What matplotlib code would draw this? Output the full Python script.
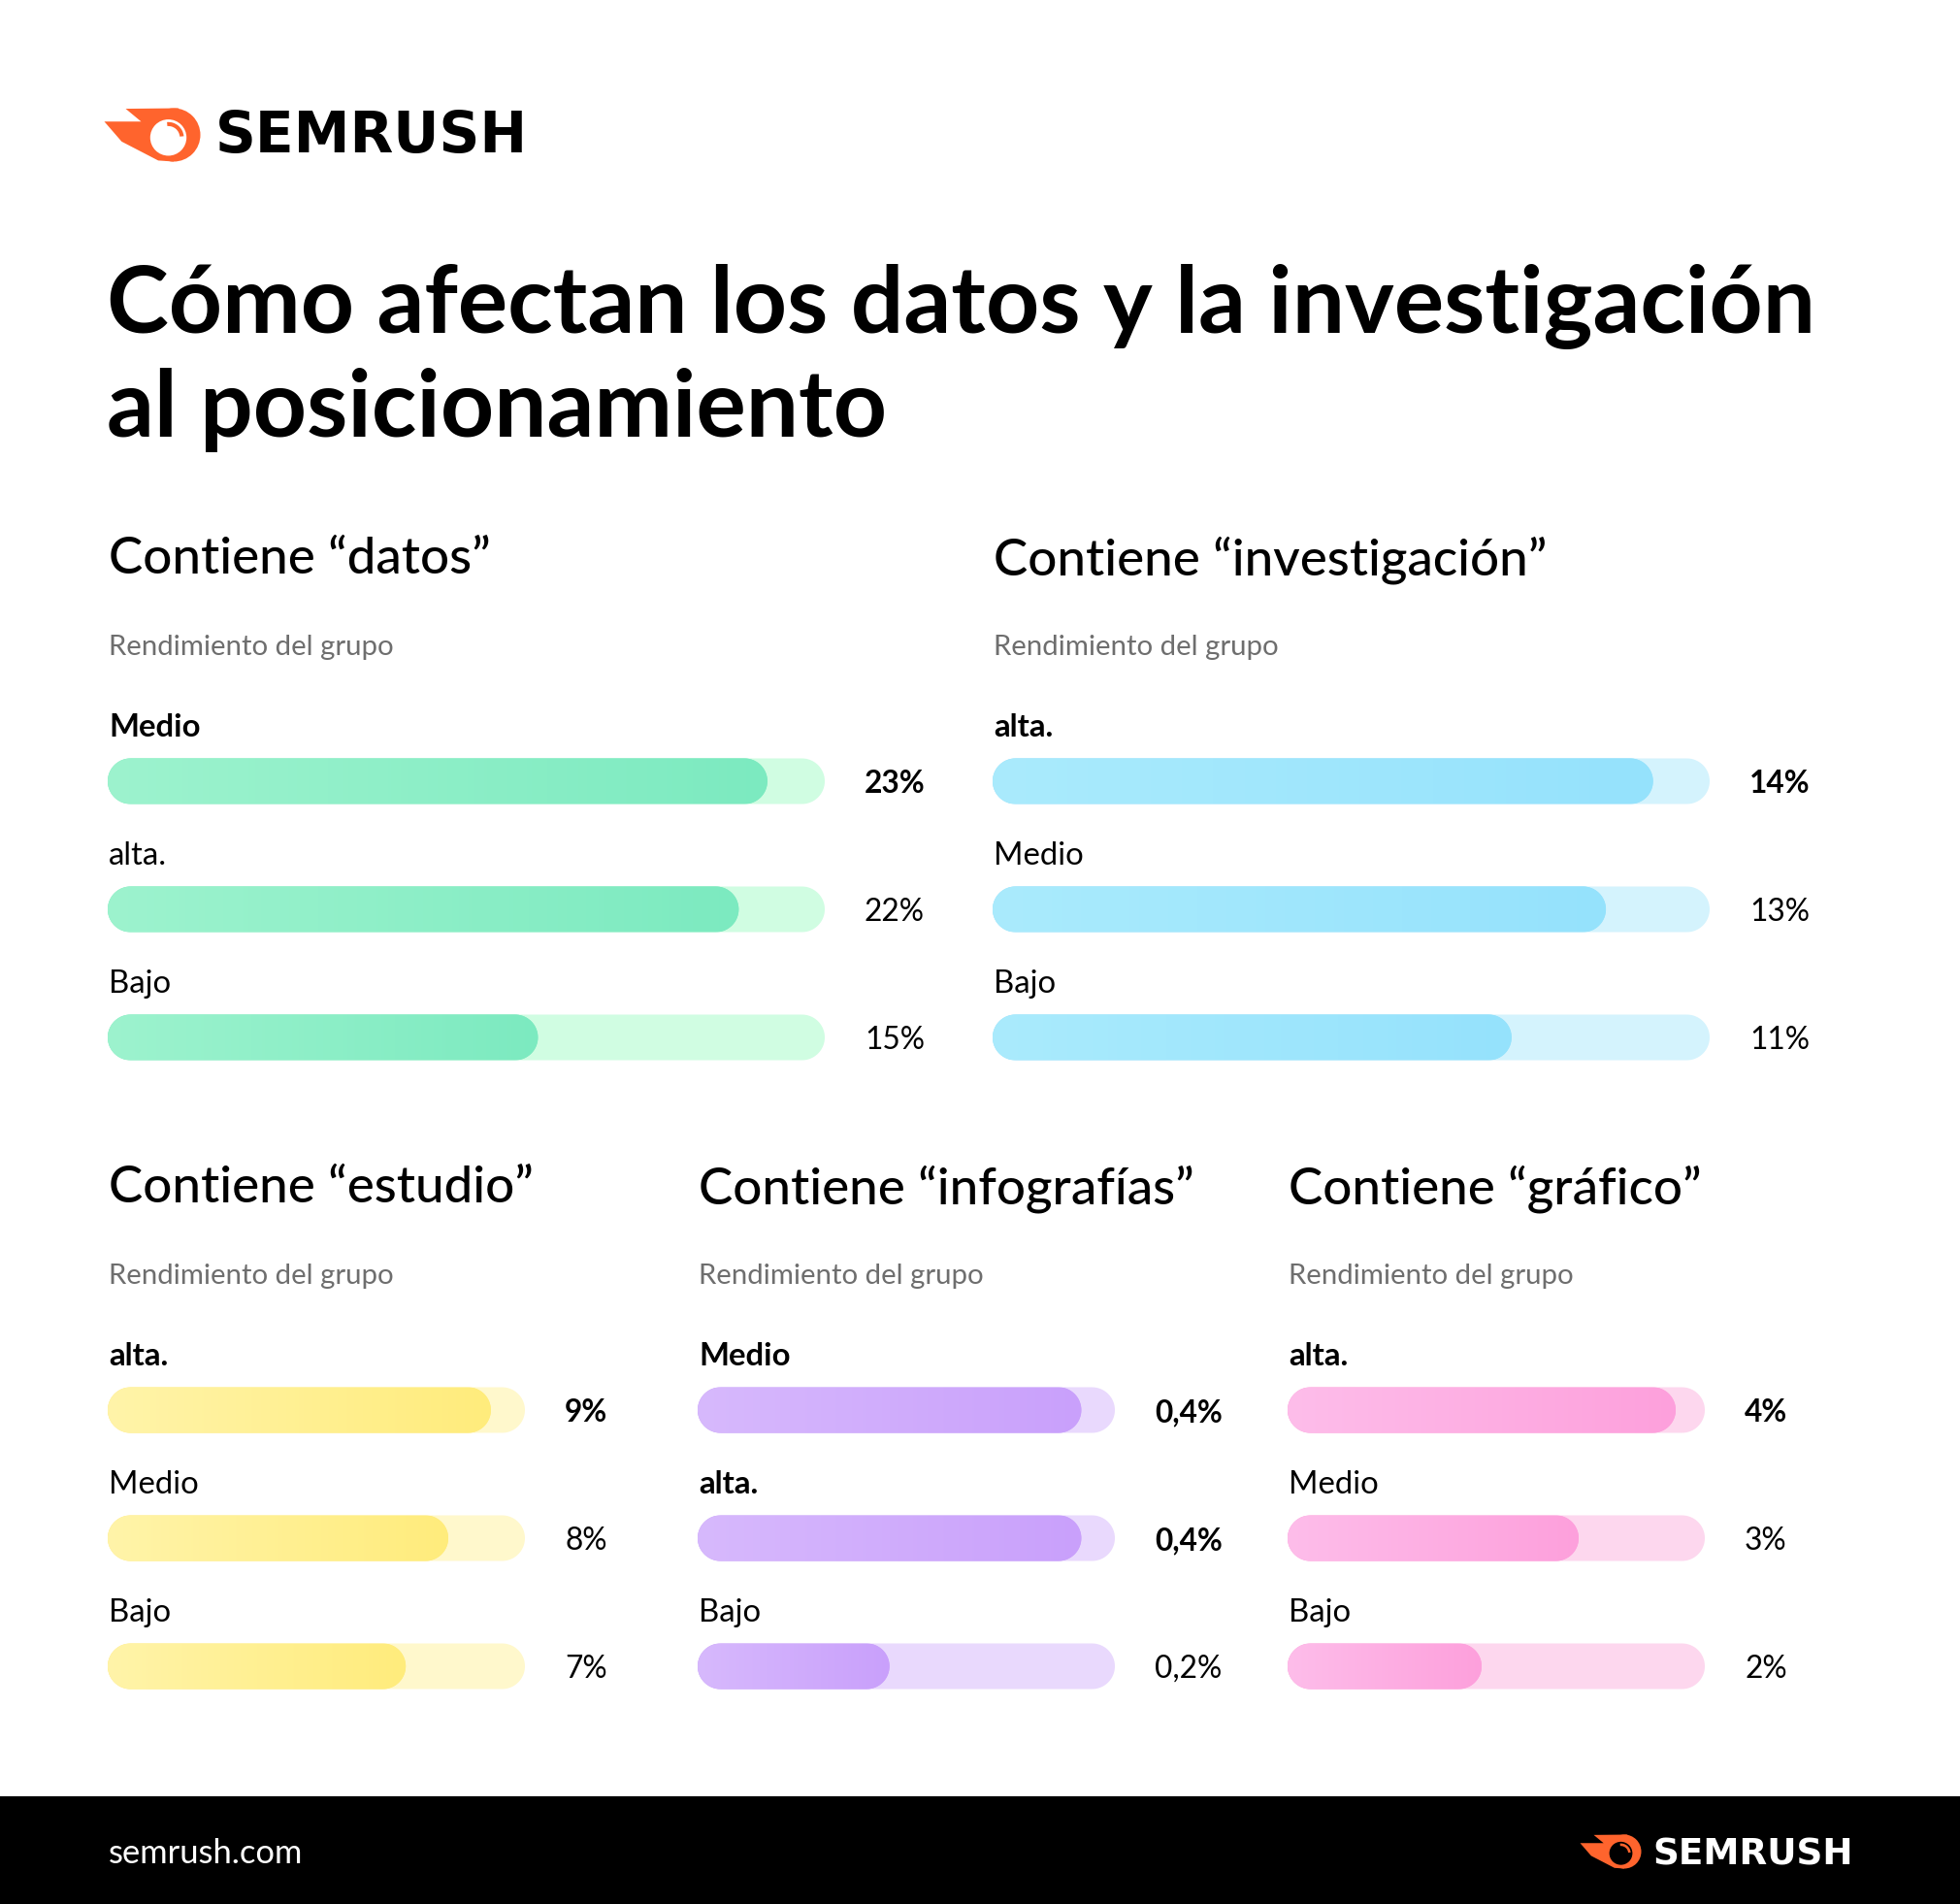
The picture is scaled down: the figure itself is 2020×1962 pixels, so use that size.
import numpy as np
import matplotlib
matplotlib.use("Agg")
import matplotlib.pyplot as plt
from matplotlib.path import Path
from matplotlib.patches import PathPatch, Circle, Wedge, Polygon, Rectangle
from matplotlib.colors import to_rgb

# ---------------- data ----------------
main_title = ["Cómo afectan los datos y la investigación", "al posicionamiento"]
subtitle = "Rendimiento del grupo"
footer_url = "semrush.com"
brand = "SEMRUSH"

panel_titles = ["Contiene “datos”", "Contiene “investigación”", "Contiene “estudio”",
                "Contiene “infografías”", "Contiene “gráfico”"]

datos_labels = ["Medio", "alta.", "Bajo"]
datos_values = [23, 22, 15]
datos_text = ["23%", "22%", "15%"]

invest_labels = ["alta.", "Medio", "Bajo"]
invest_values = [14, 13, 11]
invest_text = ["14%", "13%", "11%"]

estudio_labels = ["alta.", "Medio", "Bajo"]
estudio_values = [9, 8, 7]
estudio_text = ["9%", "8%", "7%"]

info_labels = ["Medio", "alta.", "Bajo"]
info_values = [0.4, 0.4, 0.2]
info_text = ["0,4%", "0,4%", "0,2%"]

graf_labels = ["alta.", "Medio", "Bajo"]
graf_values = [4, 3, 2]
graf_text = ["4%", "3%", "2%"]

# full-scale of each bar track (value at which the bar would be full)
scale_max = [25, 15.2, 9.8, 0.435, 4.3]

# ---------------- style ----------------
W, H, DPI = 2020, 1962, 100
FONT = ["Lato", "DejaVu Sans"]
plt.rcParams["font.family"] = FONT

# colours: (track, fill-left, fill-right)
palettes = [
    ("#D0FDE2", "#9DF3CE", "#7CEAC0"),
    ("#D4F3FD", "#AAEBFD", "#95E2FC"),
    ("#FFF8CC", "#FFF4A9", "#FFEC7C"),
    ("#E9D9FD", "#D7B9FD", "#C9A0FB"),
    ("#FDD7EE", "#FEBDEA", "#FDA0DC"),
]

# panel geometry in pixels: (left, track width, first bar centre y)
geoms = [(111, 739, 805), (1023, 739, 805), (111, 430, 1453), (719, 430, 1453), (1327, 430, 1453)]
ROW = 132
BAR_H = 47

fig = plt.figure(figsize=(W / DPI, H / DPI), dpi=DPI, facecolor="white")
canvas = fig.add_axes([0, 0, 1, 1])
canvas.set_xlim(0, W)
canvas.set_ylim(H, 0)
canvas.axis("off")
renderer = fig.canvas.get_renderer()


def size_for(s, target, weight="normal", family=None):
    fam = family if family is not None else FONT
    t = canvas.text(0, 0, s, fontsize=100, fontweight=weight, family=fam)
    w = t.get_window_extent(renderer=renderer).width
    t.remove()
    return 100 * target / w


fs_title = size_for(main_title[0], 1760, "bold")
fs_head = size_for(panel_titles[0], 394, "medium")
fs_sub = size_for(subtitle, 293)
fs_lab = size_for("Medio", 93)
fs_pct = size_for("13%", 62)
fs_url = size_for(footer_url, 200)

# ---------------- logo ----------------
ORANGE = "#FF642D"
LOGO_FONT = ["DejaVu Sans"]
tail_unit = [(0.19, -1.0), (-1.8, -0.98), (-1.22, -0.5), (-2.6, -0.5),
             (-1.95, 0.25), (-0.58, 0.96), (0.0, 1.0)]


def draw_logo(cx, cy, R, inner, tcolor, tx, tbase, twidth):
    canvas.add_patch(Polygon([(cx + x * R, cy + y * R) for x, y in tail_unit],
                             closed=True, color=ORANGE, lw=0))
    canvas.add_patch(Circle((cx, cy), R, color=ORANGE, lw=0))
    icx, icy = cx - 0.2 * R, cy + 0.1 * R
    canvas.add_patch(Circle((icx, icy), 0.68 * R, color=inner, lw=0))
    canvas.add_patch(Wedge((icx, icy), 0.58 * R, -95, -5, width=0.15 * R, color=ORANGE, lw=0))
    fs = size_for(brand, twidth, "bold", LOGO_FONT)
    canvas.text(tx, tbase, brand, fontsize=fs, fontweight="bold", color=tcolor,
                family=LOGO_FONT, va="baseline", ha="left")


draw_logo(179, 139, 27.5, "white", "black", 222, 157, 322)

# ---------------- title ----------------
canvas.text(110, 307, main_title[0], fontsize=fs_title, fontweight="bold",
            va="center_baseline", ha="left", color="black")
canvas.text(110, 415, main_title[1], fontsize=fs_title, fontweight="bold",
            va="center_baseline", ha="left", color="black")

# ---------------- panels ----------------
panels = [
    (datos_labels, datos_values, datos_text),
    (invest_labels, invest_values, invest_text),
    (estudio_labels, estudio_values, estudio_text),
    (info_labels, info_values, info_text),
    (graf_labels, graf_values, graf_text),
]


def pill(x0, x1, yc, rx, ry, n=40):
    t1 = np.linspace(-np.pi / 2, np.pi / 2, n)
    right = np.column_stack([x1 - rx + rx * np.cos(t1), yc + ry * np.sin(t1)])
    t2 = np.linspace(np.pi / 2, 3 * np.pi / 2, n)
    left = np.column_stack([x0 + rx + rx * np.cos(t2), yc + ry * np.sin(t2)])
    pts = np.vstack([right, left, right[:1]])
    codes = [Path.MOVETO] + [Path.LINETO] * (len(pts) - 2) + [Path.CLOSEPOLY]
    return Path(pts, codes)


for i, ((labels, values, texts), title, (left, width, yc0), vmax, pal) in enumerate(
        zip(panels, panel_titles, geoms, scale_max, palettes)):
    track_c, c_left, c_right = pal
    canvas.text(left + 1, yc0 - 233, title, fontsize=fs_head, fontweight="medium",
                va="center_baseline", ha="left", color="black")
    canvas.text(left + 1, yc0 - 140, subtitle, fontsize=fs_sub, va="center_baseline",
                ha="left", color="#6E6E6E")

    ax = fig.add_axes([left / W, 1 - (yc0 + 2 * ROW + ROW / 2) / H, width / W, 3 * ROW / H])
    ax.set_xlim(0, vmax)
    ax.set_ylim(2.5, -0.5)
    ax.axis("off")
    ax.patch.set_alpha(0)

    rows = np.arange(len(values))
    ry = BAR_H / ROW / 2
    rx = (BAR_H / 2) * vmax / width
    top = max(values)
    grad = np.linspace(to_rgb(c_left), to_rgb(c_right), 256)[None, :, :]
    for r, lab, v, txt in zip(rows, labels, values, texts):
        bold = "bold" if v == top else "normal"
        ax.add_patch(PathPatch(pill(0, vmax, r, rx, ry), facecolor=track_c, lw=0, zorder=1))
        fill = PathPatch(pill(0, v, r, rx, ry), facecolor=c_right, lw=0, zorder=2)
        ax.add_patch(fill)
        im = ax.imshow(grad, extent=(0, v, r + ry, r - ry), aspect="auto",
                       interpolation="bilinear", zorder=3)
        im.set_clip_path(fill)
        canvas.text(left + 1, yc0 + r * ROW - 58, lab, fontsize=fs_lab, fontweight=bold,
                    va="center_baseline", ha="left", color="black")
        canvas.text(left + width + 41, yc0 + r * ROW, txt, fontsize=fs_pct, fontweight=bold,
                    va="center_baseline", ha="left", color="black")
    ax.set_xlim(0, vmax)
    ax.set_ylim(2.5, -0.5)

# ---------------- footer ----------------
canvas.add_patch(Rectangle((0, 1851), W, H - 1851, color="black", lw=0, zorder=0))
canvas.text(112, 1907, footer_url, fontsize=fs_url, color="white",
            va="center_baseline", ha="left")
draw_logo(1674, 1908, 17.5, "black", "white", 1703, 1921, 207)

fig.savefig("out.png", dpi=DPI, facecolor="white")
